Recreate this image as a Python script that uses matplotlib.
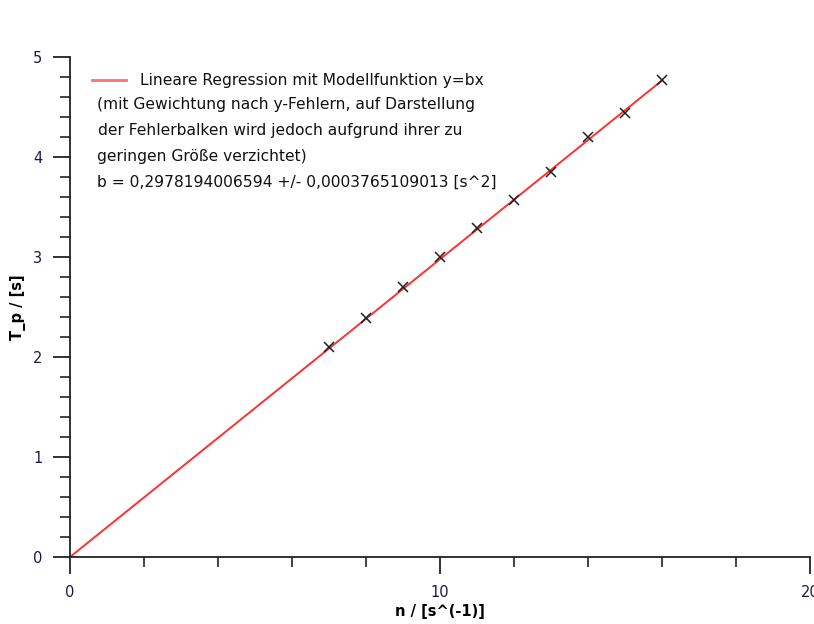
import matplotlib
matplotlib.use("Agg")
import matplotlib.pyplot as plt
import numpy as np
from matplotlib.ticker import MultipleLocator

# data
n_vals = [7, 8, 9, 10, 11, 12, 13, 14, 15, 16]
T_vals = [2.10, 2.39, 2.70, 3.00, 3.29, 3.57, 3.85, 4.20, 4.44, 4.77]
b_fit = 0.2978194006594
fit_x = [0, 16]
legend_lines = [
    "Lineare Regression mit Modellfunktion y=bx",
    "(mit Gewichtung nach y-Fehlern, auf Darstellung",
    "der Fehlerbalken wird jedoch aufgrund ihrer zu",
    "geringen Größe verzichtet)",
    "b = 0,2978194006594 +/- 0,0003765109013 [s^2]",
]

plt.rcParams['font.family'] = ['DejaVu Sans']
fig = plt.figure(figsize=(8.14, 6.24), dpi=100)
W, H = 814, 624
ax = fig.add_axes([70 / W, (H - 557) / H, 740 / W, 500 / H])

fx = np.array(fit_x, dtype=float)
ax.plot(fx, b_fit * fx, color='#ff3030', lw=1.4, zorder=2)
ax.plot(n_vals, T_vals, linestyle='none', marker='x', color='#202020',
        markersize=7, mew=1.1, zorder=3)

ax.set_xlim(0, 20)
ax.set_ylim(0, 5)
ax.xaxis.set_major_locator(MultipleLocator(10))
ax.xaxis.set_minor_locator(MultipleLocator(2))
ax.yaxis.set_major_locator(MultipleLocator(1))
ax.yaxis.set_minor_locator(MultipleLocator(0.2))
ax.xaxis.set_major_formatter(plt.FuncFormatter(lambda v, p: f"{int(v)}"))
ax.yaxis.set_major_formatter(plt.FuncFormatter(lambda v, p: f"{int(v)}"))

for s in ['top', 'right']:
    ax.spines[s].set_visible(False)
for s in ['left', 'bottom']:
    ax.spines[s].set_linewidth(1.3)
    ax.spines[s].set_color('#222222')

ax.tick_params(axis='both', which='major', direction='out', length=12,
               width=1.3, color='#222222', labelsize=10.5, pad=8,
               labelcolor='#1a1a40')
ax.tick_params(axis='both', which='minor', direction='out', length=7.5,
               width=1.3, color='#333333')

ax.set_xlabel("n / [s^(-1)]", fontsize=10.5, fontweight='bold', labelpad=3)
ax.set_ylabel("T_p / [s]", fontsize=10.5, fontweight='bold', labelpad=5)

# legend (manual)
def ax_x(px):
    return (px - 70) / 740
def ax_y(py):
    return (557 - py) / 500

ax.plot([ax_x(92), ax_x(126)], [ax_y(80), ax_y(80)], transform=ax.transAxes,
        color='#ff7070', lw=2, clip_on=False)
ys = [81, 105, 131, 157, 182]
xs = [140, 97, 98, 97, 97]
for t, x, y in zip(legend_lines, xs, ys):
    ax.text(ax_x(x), ax_y(y), t, transform=ax.transAxes, fontsize=11.2,
            va='center', ha='left', color='#111111')

fig.savefig("out.png", dpi=100)
